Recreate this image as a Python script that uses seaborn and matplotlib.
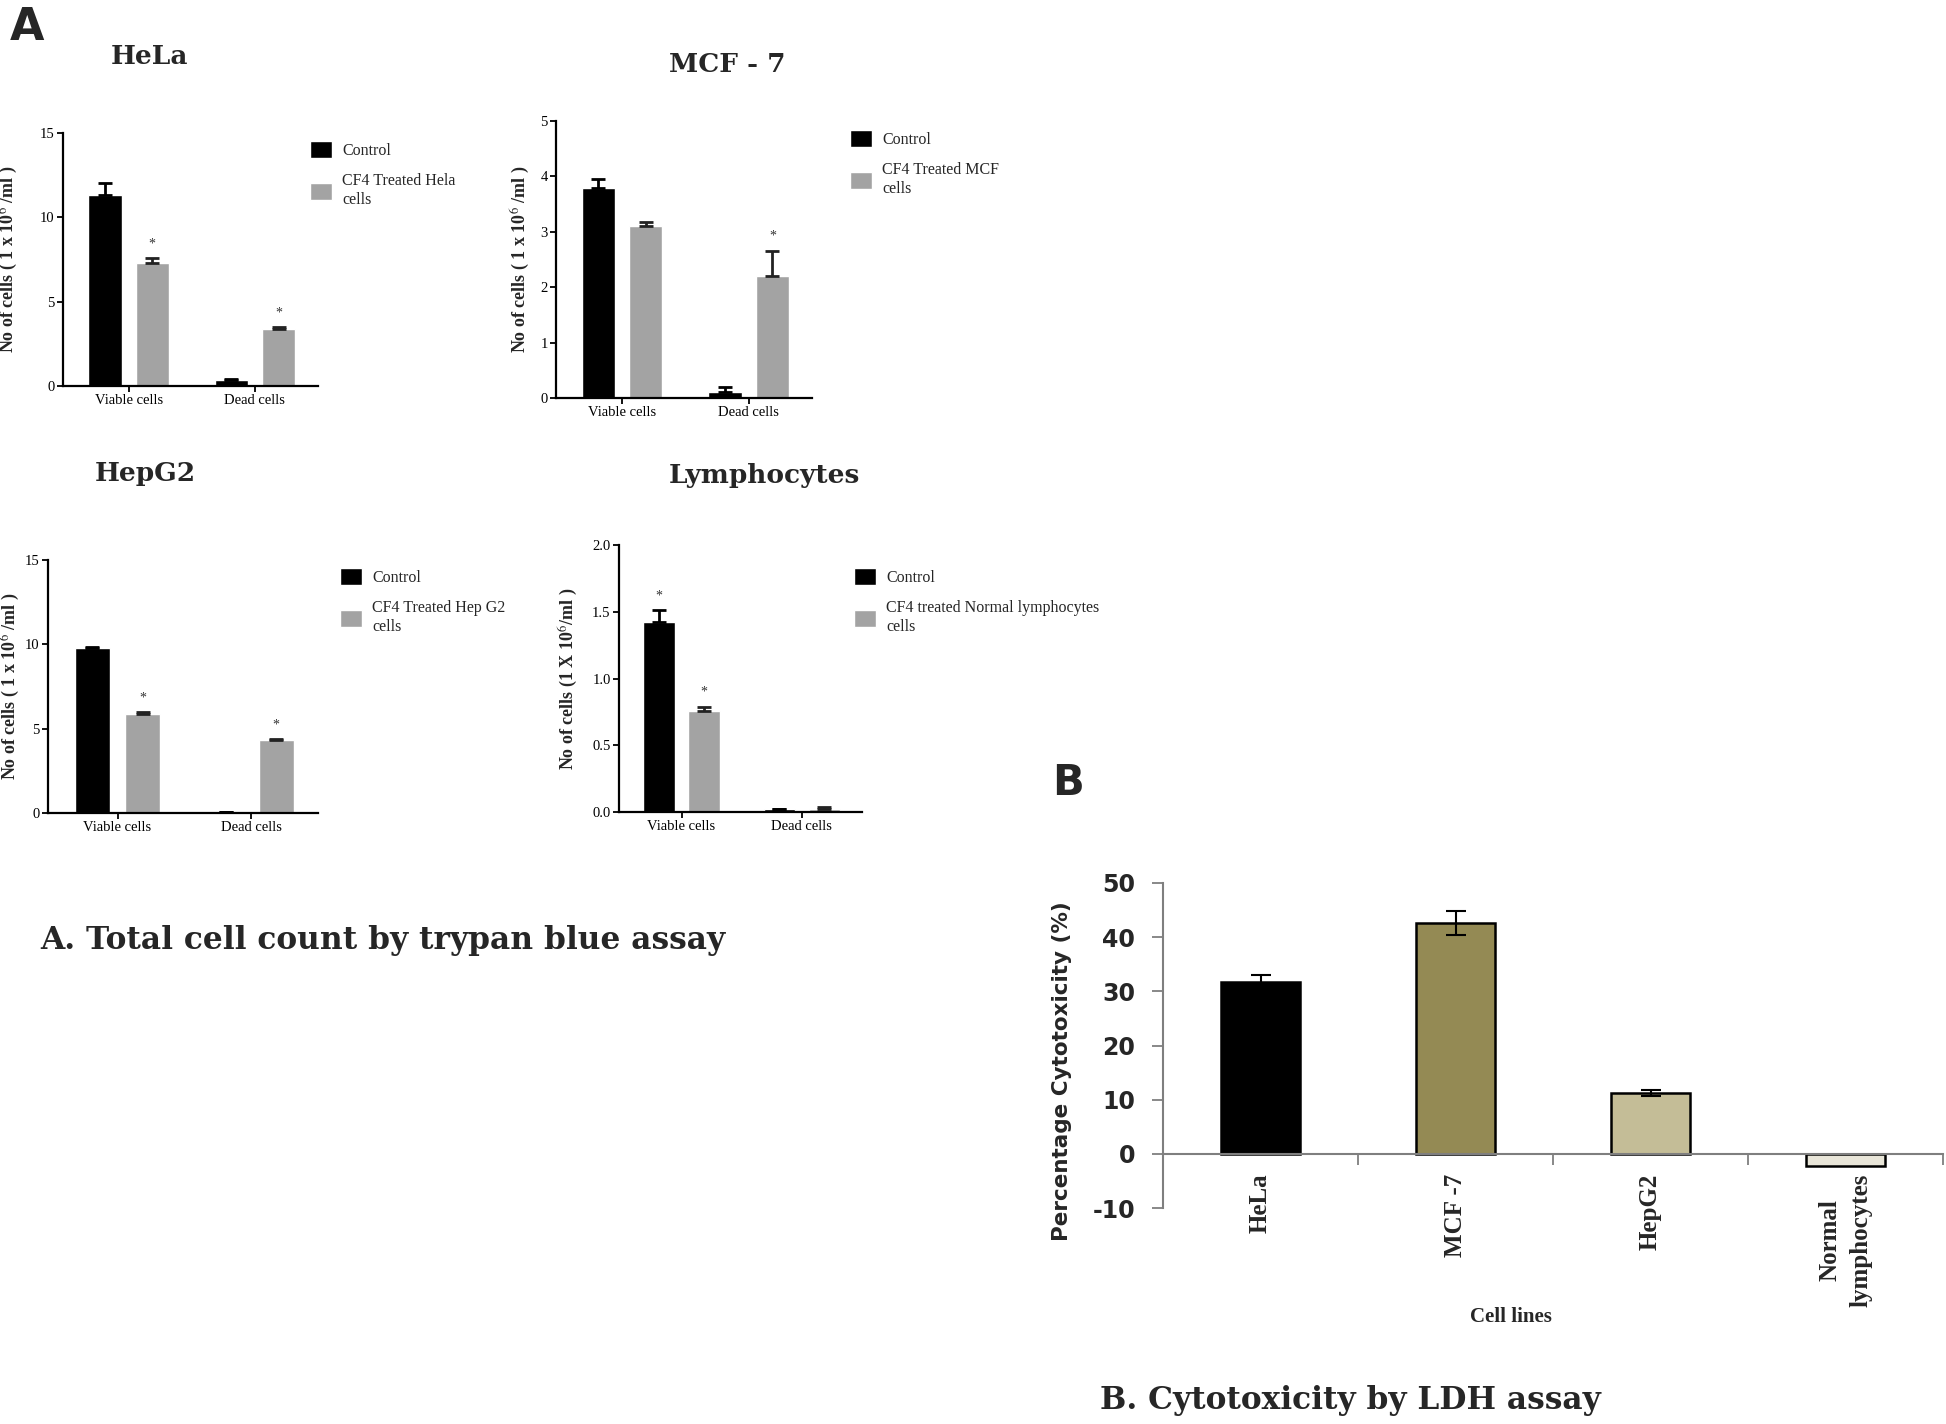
import numpy as np
import pandas as pd
import seaborn as sns
import matplotlib.pyplot as plt
from matplotlib.patches import Patch

# ---- data: panel A (trypan blue counts) ----
groups = ['Viable cells', 'Dead cells']

hela_control = [11.3, 0.35]
hela_treated = [7.3, 3.4]
hela_control_err = [0.75, 0.05]
hela_treated_err = [0.3, 0.1]
hela_stars = [[False, False], [True, True]]

mcf_control = [3.79, 0.1]
mcf_treated = [3.1, 2.2]
mcf_control_err = [0.17, 0.1]
mcf_treated_err = [0.07, 0.45]
mcf_stars = [[False, False], [False, True]]

hep_control = [9.8, 0.05]
hep_treated = [5.85, 4.3]
hep_control_err = [0.05, 0.02]
hep_treated_err = [0.12, 0.1]
hep_stars = [[False, False], [True, True]]

lym_control = [1.42, 0.02]
lym_treated = [0.76, 0.02]
lym_control_err = [0.09, 0.005]
lym_treated_err = [0.03, 0.02]
lym_stars = [[True, False], [True, False]]

# ---- data: panel B (LDH) ----
cell_lines = ['HeLa', 'MCF -7', 'HepG2', 'Normal\nlymphocytes']
cytotox = [31.7, 42.6, 11.2, -2.2]
cytotox_err = [1.3, 2.2, 0.5, 0.0]
ldh_colors = ['#000000', '#948a54', '#c4bd97', '#e8e5d8']

sns.set_theme(style='ticks')
plt.rcParams['font.family'] = ['Liberation Serif', 'DejaVu Serif']
plt.rcParams['mathtext.fontset'] = 'stix'

W, H = 1946, 1424
fig = plt.figure(figsize=(W / 100, H / 100), dpi=100)


def rect(l, t, r, b):
    return [l / W, 1 - b / H, (r - l) / W, (b - t) / H]


def cell_panel(box, title, title_xy, control, treated, c_err, t_err, stars,
               ymax, yticks, ticklabels, ylabel, ylab_x, legend_label, legend_xy):
    l, t, r, b = box
    ax = fig.add_axes(rect(l, t, r, b))
    df = pd.DataFrame({
        'group': groups * 2,
        'condition': ['Control'] * 2 + [legend_label] * 2,
        'count': control + treated,
    })
    sns.barplot(data=df, x='group', y='count', hue='condition',
                palette=['#000000', '#a3a3a3'], saturation=1, width=0.75,
                gap=0.3, errorbar=None, legend=False, ax=ax)
    for cont, errs, st, col in zip(ax.containers, [c_err, t_err], stars,
                                   ['#000000', '#222222']):
        for bar, e, s in zip(cont, errs, st):
            xc = bar.get_x() + bar.get_width() / 2
            h = bar.get_height()
            ax.errorbar(xc, h, yerr=[[0], [e]], fmt='none', ecolor=col,
                        elinewidth=2, capsize=5, capthick=2)
            if s:
                ax.text(xc, h + e + ymax * 0.03, '*', ha='center', va='bottom',
                        fontsize=10, color='#333333')
    ax.set_ylim(0, ymax)
    ax.set_xlim(-0.52, 1.5)
    ax.set_yticks(yticks)
    ax.set_yticklabels(ticklabels, fontsize=10.5)
    ax.set_xticks([0, 1])
    ax.set_xticklabels(groups, fontsize=10.5)
    ax.set_xlabel('')
    ax.set_ylabel(ylabel, fontsize=13, fontweight='bold')
    ax.yaxis.set_label_coords((ylab_x - l) / (r - l), 0.5)
    sns.despine(ax=ax)
    for sp in ['left', 'bottom']:
        ax.spines[sp].set_linewidth(1.6)
        ax.spines[sp].set_color('black')
    ax.tick_params(length=4, width=1.3, pad=2, colors='black')
    ax.set_facecolor('none')
    fig.text(title_xy[0] / W, 1 - title_xy[1] / H, title, ha='center',
             va='center', fontsize=19, fontweight='bold', family='DejaVu Serif')
    handles = [Patch(facecolor='#000000'), Patch(facecolor='#a3a3a3')]
    fig.legend(handles, ['Control', legend_label], loc='upper left',
               bbox_to_anchor=(legend_xy[0] / W, 1 - legend_xy[1] / H),
               frameon=False, prop={'size': 11.5}, handlelength=1.4,
               handleheight=1.3, labelspacing=0.9, handletextpad=0.6,
               borderpad=0, borderaxespad=0)
    return ax


cell_panel((63, 133, 318, 386), 'HeLa', (149, 56), hela_control, hela_treated,
           hela_control_err, hela_treated_err, hela_stars, 15, [0, 5, 10, 15],
           ['0', '5', '10', '15'], 'No of cells ( 1 x 10$^{6}$ /ml )', 20,
           'CF4 Treated Hela\ncells', (310, 141))

cell_panel((556, 121, 812, 398), 'MCF - 7', (727, 64), mcf_control, mcf_treated,
           mcf_control_err, mcf_treated_err, mcf_stars, 5, [0, 1, 2, 3, 4, 5],
           ['0', '1', '2', '3', '4', '5'], 'No of cells ( 1 x 10$^{6}$ /ml )', 532,
           'CF4 Treated MCF\ncells', (850, 130))

cell_panel((48, 560, 318, 813), 'HepG2', (145, 474), hep_control, hep_treated,
           hep_control_err, hep_treated_err, hep_stars, 15, [0, 5, 10, 15],
           ['0', '5', '10', '15'], 'No of cells ( 1 x 10$^{6}$ /ml )', 22,
           'CF4 Treated Hep G2\ncells', (340, 568))

cell_panel((619, 545, 862, 812), 'Lymphocytes', (764, 476), lym_control, lym_treated,
           lym_control_err, lym_treated_err, lym_stars, 2.0,
           [0, 0.5, 1.0, 1.5, 2.0], ['0.0', '0.5', '1.0', '1.5', '2.0'],
           'No of cells (1 X 10$^{6}$/ml )', 580,
           'CF4 treated Normal lymphocytes\ncells', (854, 568))

# ---- panel B ----
axb = fig.add_axes(rect(1163, 883, 1943, 1208))
ldh = pd.DataFrame({'line': cell_lines, 'cytotox': cytotox})
sns.barplot(data=ldh, x='line', y='cytotox', hue='line', palette=ldh_colors,
            saturation=1, width=0.41, errorbar=None, legend=False,
            edgecolor='black', linewidth=1.8, ax=axb)
for bar, e in zip(axb.patches, cytotox_err):
    if e > 0:
        axb.errorbar(bar.get_x() + bar.get_width() / 2, bar.get_height(), yerr=e,
                     fmt='none', ecolor='black', elinewidth=1.5, capsize=7,
                     capthick=1.5)
axb.set_ylim(-10, 50)
axb.set_xlim(-0.5, 3.5)
axb.set_yticks([-10, 0, 10, 20, 30, 40, 50])
axb.set_yticklabels(['-10', '0', '10', '20', '30', '40', '50'],
                    fontsize=17, fontweight='bold', family='DejaVu Sans')
axb.spines['bottom'].set_position(('data', 0))
sns.despine(ax=axb)
for sp in ['left', 'bottom']:
    axb.spines[sp].set_color('#7f7f7f')
    axb.spines[sp].set_linewidth(1.5)
axb.tick_params(axis='y', length=8, width=1.3, color='#7f7f7f', pad=12)
axb.set_xticks(range(len(cell_lines)))
axb.set_xticklabels(cell_lines, rotation=90, fontsize=18, fontweight='bold',
                    va='top', ha='center', multialignment='center',
                    linespacing=1.4)
axb.set_xticks([0.5, 1.5, 2.5, 3.5], minor=True)
axb.tick_params(axis='x', which='major', length=0, pad=14)
axb.tick_params(axis='x', which='minor', length=8, width=1.3, color='#7f7f7f')
axb.set_xlabel('')
axb.set_ylabel('Percentage Cytotoxicity (%)', fontsize=15.5, fontweight='bold',
               family='DejaVu Sans')
axb.yaxis.set_label_coords((1072 - 1163) / 780, 0.42)
axb.set_facecolor('none')

fig.text(1511 / W, 1 - 1317 / H, 'Cell lines', ha='center', va='center',
         fontsize=15, fontweight='bold')

# ---- panel letters and captions ----
fig.text(10 / W, 1 - 6 / H, 'A', ha='left', va='top', fontsize=32,
         fontweight='bold', family='DejaVu Sans')
fig.text(1052 / W, 1 - 762 / H, 'B', ha='left', va='top', fontsize=30,
         fontweight='bold', family='DejaVu Sans')
fig.text(40 / W, 1 - 940 / H, 'A. Total cell count by trypan blue assay',
         ha='left', va='center', fontsize=22.5, fontweight='bold',
         family='DejaVu Serif')
fig.text(1100 / W, 1 - 1400 / H, 'B. Cytotoxicity by LDH assay',
         ha='left', va='center', fontsize=22.5, fontweight='bold',
         family='DejaVu Serif')

fig.savefig('out.png', dpi=100, facecolor='white')
